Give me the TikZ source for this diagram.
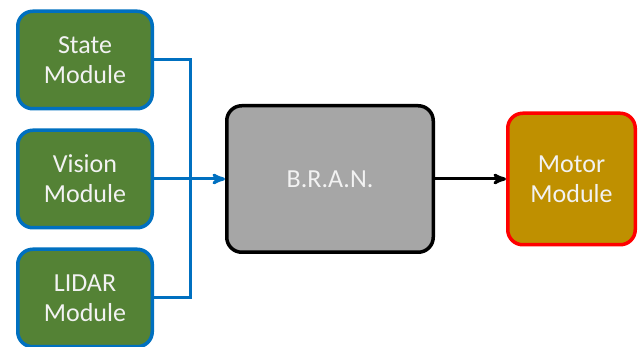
\documentclass[tikz,border=0pt]{standalone}
\usepackage{fontspec}
\setmainfont{Carlito}
\usetikzlibrary{arrows,positioning}

\definecolor{modgreen}{HTML}{548235}
\definecolor{modblue}{HTML}{0070C0}
\definecolor{brangray}{HTML}{A6A6A6}
\definecolor{motorgold}{HTML}{BF9000}

\tikzset{
  module/.style={draw=modblue, fill=modgreen, line width=3.5pt, rounded corners=15pt,
    minimum width=134.5pt, minimum height=97.5pt, align=center, text=white!95!black,
    font=\fontsize{26}{30}\selectfont},
  brain/.style={module, draw=black, fill=brangray, minimum width=206.5pt, minimum height=146.5pt},
  motor/.style={module, draw=red, fill=motorgold, minimum width=127.5pt, minimum height=131.5pt},
  wire/.style={draw=modblue, line width=3pt}
}

\begin{document}
\begin{tikzpicture}[x=1pt,y=1pt,>=stealth',node distance=18pt]
\useasboundingbox (0,0) rectangle (638,-347);

\node[module]   (state)  at (85,-60)   {State\\Module};
\node[module]   (vision) [below=of state]  {Vision\\Module};
\node[module]   (lidar)  [below=of vision] {LIDAR\\Module};
\node[brain]    (bran)   [right=71pt of vision] {B.R.A.N.};
\node[motor]    (motor)  [right=71pt of bran] {Motor\\Module};

\coordinate (bus) at ([xshift=36pt]vision.east);

\draw[wire] (state.east) -| (bus) |- (lidar.east);
\draw[wire,->] (vision.east) -- (bran.west);
\draw[line width=3pt,->] (bran.east) -- (motor.west);

\end{tikzpicture}
\end{document}
